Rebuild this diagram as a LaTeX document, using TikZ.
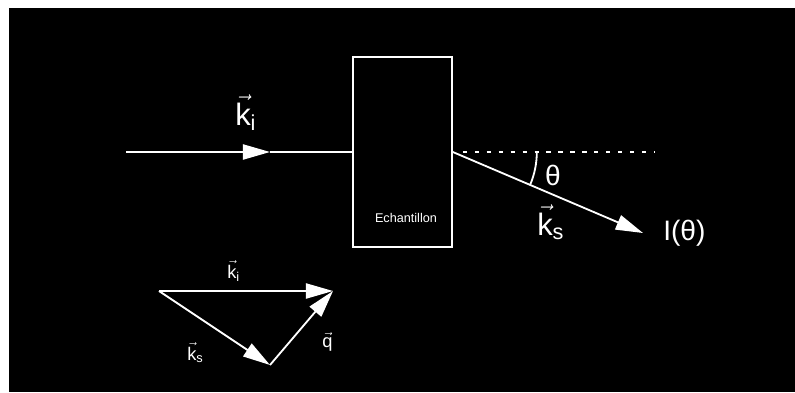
\documentclass[tikz,border=0pt]{standalone}
\usepackage{fontspec}
\setmainfont{Liberation Sans}
\setsansfont{Liberation Sans}
\usetikzlibrary{arrows.meta, positioning, calc}

\begin{document}
\begin{tikzpicture}[
  ray/.style={draw=white, line width=1.3pt},
  vec/.style={ray, -{Triangle[length=0.68cm, width=0.38cm]}},
  biglbl/.style={text=white, inner sep=0pt, anchor=base west, font=\fontsize{22}{26}\selectfont},
  smalllbl/.style={text=white, inner sep=0pt, anchor=base west, font=\fontsize{13}{15}\selectfont}]
  \fill[white] (0,0) rectangle (19.875,9.8);
  \fill[black] (0.225,0) rectangle (19.875,9.6);

  \node (sample) [draw=white, line width=1.3pt, minimum width=2.475cm, minimum height=4.75cm, inner sep=0pt] at (10.06,6) {};
  \node (samplename) [text=white, font=\fontsize{9}{10}\selectfont] at (10.15,4.35) {Echantillon};
  \coordinate (source) at (3.15,6);
  \coordinate (middle) at (6.75,6);
  \coordinate (dashend) at (16.375,6);
  \node (intensity) [text=white, anchor=west, inner xsep=0.5cm, inner ysep=0pt, font=\fontsize{20}{24}\selectfont] at (16.075,3.975) {I(θ)};
  \node (angle) [text=white, font=\fontsize{20}{24}\selectfont] at (13.825,5.425) {θ};
  \node (kin) [biglbl] at (5.875,6.675) {$\vec{\mathrm{k}}_{\mathrm{i}}$};
  \node (kout) [biglbl] at (13.425,3.925) {$\vec{\mathrm{k}}_{\mathrm{s}}$};

  \draw[vec] (source) -- (middle);
  \draw[ray] (middle) -- (sample.west);
  \draw[ray, dash pattern=on 3pt off 5.5pt] ($(sample.east)+(0.25,0)$) -- (dashend);
  \draw[vec] (sample.east) -- (intensity.west);
  \draw[ray] ($(sample.east)+(0:2.1)$) arc[start angle=0, end angle=-23, radius=2.1];

  \coordinate (tail) at (3.975,2.525);
  \coordinate (head) at (8.325,2.525);
  \coordinate (corner) at (6.75,0.675);
  \draw[vec] (tail) -- (head);
  \draw[vec] (tail) -- (corner);
  \draw[vec] (corner) -- (head);
  \node (kinsmall) [smalllbl] at (5.675,2.85) {$\vec{\mathrm{k}}_{\mathrm{i}}$};
  \node (koutsmall) [smalllbl] at (4.675,0.8) {$\vec{\mathrm{k}}_{\mathrm{s}}$};
  \node (qsmall) [smalllbl] at (8.05,1.125) {$\vec{\mathrm{q}}$};
\end{tikzpicture}
\end{document}
